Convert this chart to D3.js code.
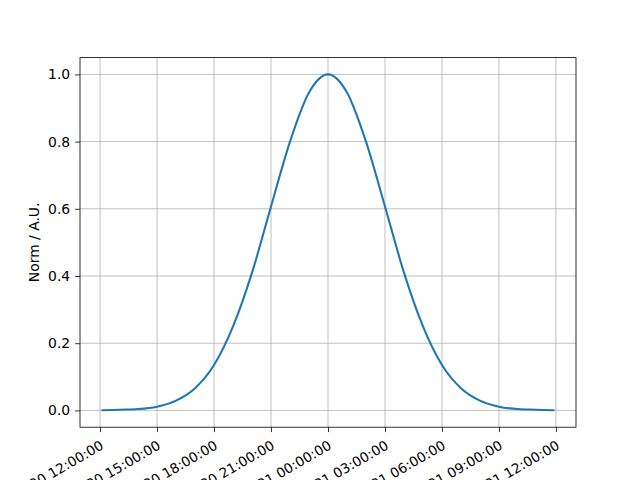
<!DOCTYPE html>
<html>
<head>
<meta charset="utf-8">
<script src="https://cdn.jsdelivr.net/npm/d3@7"></script>
<style>
  html, body { margin: 0; padding: 0; background: #fff; }
  svg { display: block; font-family: "DejaVu Sans", sans-serif; }
</style>
</head>
<body>
<svg id="chart" width="640" height="480"></svg>
<script>
// ---- data ----
const startTime = "2020-01-20T12:00:00Z";
const hourOffsets = [0.13,1,2,3,4,5,6,7,8,9,10,11,12,13,14,15,16,17,18,19,20,21,22,23,23.87];
const normValues = [0.0005,0.002,0.004,0.011,0.029,0.066,0.135,0.25,0.41,0.607,0.80,0.946,1.0,
                    0.946,0.80,0.607,0.41,0.25,0.135,0.066,0.029,0.011,0.004,0.002,0.0005];
const yTicks = [0.0,0.2,0.4,0.6,0.8,1.0];
const xTickHours = [0,3,6,9,12,15,18,21,24];
const yLabel = "Norm / A.U.";

// ---- layout ----
const W = 640, H = 480;
const mLeft = 80, mRight = 576, mTop = 57.6, mBottom = 427.2;

const t0 = new Date(startTime);
const hourMs = 3600 * 1000;
const toDate = h => new Date(t0.getTime() + h * hourMs);
const data = hourOffsets.map((h, i) => ({ t: toDate(h), v: normValues[i] }));

const tMin = d3.min(data, d => d.t), tMax = d3.max(data, d => d.t);
const span = tMax - tMin;
const x = d3.scaleUtc()
  .domain([new Date(tMin.getTime() - 0.05 * span), new Date(tMax.getTime() + 0.05 * span)])
  .range([mLeft, mRight]);
const vMin = 0, vMax = d3.max(normValues);
const vSpan = vMax - vMin;
const y = d3.scaleLinear()
  .domain([vMin - 0.05 * vSpan, vMax + 0.05 * vSpan])
  .range([mBottom, mTop]);

const svg = d3.select("#chart");
svg.append("rect").attr("width", W).attr("height", H).attr("fill", "#fff");

const xTicks = xTickHours.map(toDate);
const fmt = d3.utcFormat("%Y-%m-%d %H:%M:%S");

// grid
const grid = svg.append("g");
grid.selectAll("line.vx").data(xTicks).enter().append("line")
  .attr("x1", d => x(d)).attr("x2", d => x(d))
  .attr("y1", mTop).attr("y2", mBottom)
  .attr("stroke", "#b0b0b0").attr("stroke-width", 0.8);
grid.selectAll("line.hy").data(yTicks).enter().append("line")
  .attr("x1", mLeft).attr("x2", mRight)
  .attr("y1", d => y(d)).attr("y2", d => y(d))
  .attr("stroke", "#b0b0b0").attr("stroke-width", 0.8);

// line
svg.append("path").datum(data)
  .attr("fill", "none")
  .attr("stroke", "#1f77b4")
  .attr("stroke-width", 2.08)
  .attr("stroke-linejoin", "round")
  .attr("stroke-linecap", "square")
  .attr("d", d3.line().x(d => x(d.t)).y(d => y(d.v)).curve(d3.curveMonotoneX));

// axes
const yAxis = d3.axisLeft(y).tickValues(yTicks).tickFormat(d3.format(".1f")).tickSize(4.9).tickPadding(4.9);
const gy = svg.append("g").attr("transform", `translate(${mLeft},0)`).call(yAxis);
gy.select(".domain").remove();
gy.selectAll(".tick line").attr("stroke", "#000").attr("stroke-width", 0.8);
gy.selectAll(".tick text").attr("font-size", 13.9).attr("font-family", "DejaVu Sans, sans-serif").attr("fill", "#000");

const xAxis = d3.axisBottom(x).tickValues(xTicks).tickFormat(fmt).tickSize(4.9);
const gx = svg.append("g").attr("transform", `translate(0,${mBottom})`).call(xAxis);
gx.select(".domain").remove();
gx.selectAll(".tick line").attr("stroke", "#000").attr("stroke-width", 0.8);
gx.selectAll(".tick text")
  .attr("font-size", 13.6).attr("font-family", "DejaVu Sans, sans-serif").attr("fill", "#000")
  .attr("text-anchor", "end")
  .attr("dy", null)
  .attr("y", null)
  .attr("transform", "translate(4,21) rotate(-30)");

// spines
svg.append("rect")
  .attr("x", mLeft).attr("y", mTop)
  .attr("width", mRight - mLeft).attr("height", mBottom - mTop)
  .attr("fill", "none").attr("stroke", "#000").attr("stroke-width", 0.8);

// y label
svg.append("text")
  .attr("transform", `translate(39.3,${(mTop + mBottom) / 2}) rotate(-90)`)
  .attr("text-anchor", "middle")
  .attr("font-size", 13.9)
  .attr("fill", "#000")
  .text(yLabel);
</script>
</body>
</html>
